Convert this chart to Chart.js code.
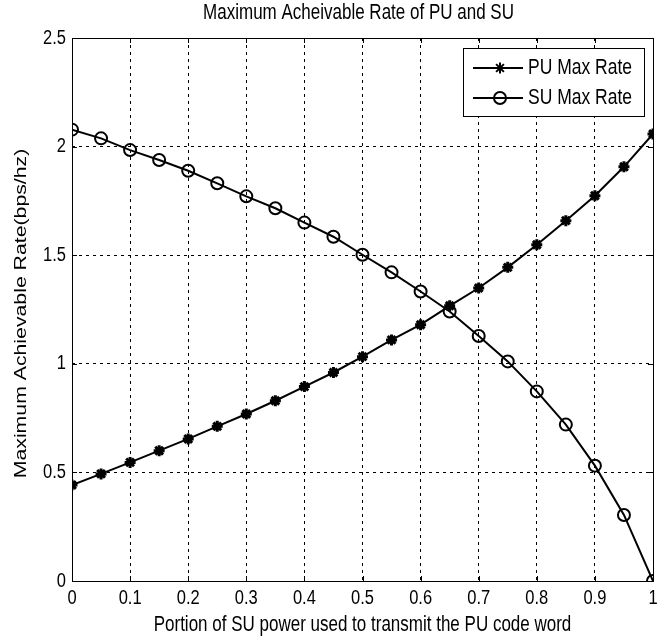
<!DOCTYPE html>
<html>
<head>
<meta charset="utf-8">
<script src="https://cdn.jsdelivr.net/npm/chart.js@4"></script>
<style>
  html, body { margin: 0; padding: 0; background: #fff; }
  #chart { display: block; }
</style>
</head>
<body>
<canvas id="chart" width="664" height="638"></canvas>
<script>
// values
const portion = [0, 0.05, 0.1, 0.15, 0.2, 0.25, 0.3, 0.35, 0.4, 0.45, 0.5,
                 0.55, 0.6, 0.65, 0.7, 0.75, 0.8, 0.85, 0.9, 0.95, 1]
const puRate = [0.442, 0.493, 0.546, 0.600, 0.654, 0.712, 0.769, 0.830, 0.895, 0.960, 1.033,
                1.110, 1.180, 1.267, 1.349, 1.444, 1.548, 1.659, 1.774, 1.907, 2.058]
const suRate = [2.078, 2.038, 1.984, 1.938, 1.889, 1.831, 1.771, 1.716, 1.650, 1.585, 1.502,
                1.421, 1.333, 1.241, 1.128, 1.011, 0.873, 0.720, 0.531, 0.304, 0]
const xTicks = [0, 0.1, 0.2, 0.3, 0.4, 0.5, 0.6, 0.7, 0.8, 0.9, 1]
const yTicks = [0, 0.5, 1, 1.5, 2, 2.5]

const FONT = "'Liberation Sans', Arial, sans-serif"
const STRETCH = 1.25 // the reference picture is stretched vertically, text too
const toPoints = ys => portion.map((x, i) => ({x: x, y: ys[i]}))

// text drawn by hand so it can be stretched like the reference
function stretchedText(ctx, text, x, y, align, size, rotate) {
  ctx.save()
  ctx.translate(x, y)
  if (rotate) {
    ctx.rotate(-Math.PI / 2)
    ctx.scale(STRETCH, 1)
  } else {
    ctx.scale(1, STRETCH)
  }
  ctx.font = size + 'px ' + FONT
  ctx.textAlign = align
  ctx.textBaseline = 'middle'
  ctx.fillStyle = '#000'
  ctx.fillText(text, 0, 0)
  ctx.restore()
}

// frame, inward ticks, labels, title and legend (matlab look)
const matlabFrame = {
  id: 'matlabFrame',
  afterDraw(chart) {
    const {ctx, chartArea: a, scales} = chart
    ctx.save()
    ctx.strokeStyle = '#000'
    ctx.lineWidth = 1
    ctx.setLineDash([])
    ctx.strokeRect(a.left + 0.5, a.top + 0.5, a.right - a.left, a.bottom - a.top)

    ctx.beginPath()
    xTicks.forEach(v => {
      const px = Math.round(scales.x.getPixelForValue(v)) + 0.5
      ctx.moveTo(px, a.bottom); ctx.lineTo(px, a.bottom - 5)
      ctx.moveTo(px, a.top); ctx.lineTo(px, a.top + 5)
    })
    yTicks.forEach(v => {
      const py = Math.round(scales.y.getPixelForValue(v)) + 0.5
      ctx.moveTo(a.left, py); ctx.lineTo(a.left + 5, py)
      ctx.moveTo(a.right, py); ctx.lineTo(a.right - 5, py)
    })
    ctx.stroke()

    // tick labels
    xTicks.forEach(v => {
      stretchedText(ctx, String(v), scales.x.getPixelForValue(v), a.bottom + 17, 'center', 16.5)
    })
    yTicks.forEach(v => {
      stretchedText(ctx, String(v), a.left - 6, scales.y.getPixelForValue(v), 'right', 16.5)
    })

    // titles
    const cx = (a.left + a.right) / 2
    stretchedText(ctx, 'Maximum Acheivable Rate of PU and SU', cx - 4, 13, 'center', 17)
    stretchedText(ctx, 'Portion of SU power used to transmit the PU code word', cx, 625, 'center', 17)
    stretchedText(ctx, 'Maximum Achievable Rate(bps/hz)', 21, (a.top + a.bottom) / 2 + 4, 'center', 17, true)

    // legend box
    const bx = a.right - 190, by = a.top + 10, bw = 181, bh = 68
    ctx.fillStyle = '#fff'
    ctx.fillRect(bx, by, bw, bh)
    ctx.strokeRect(bx + 0.5, by + 0.5, bw, bh)
    chart.data.datasets.forEach((ds, i) => {
      const cy = by + 20 + i * 30
      ctx.lineWidth = 2
      ctx.strokeStyle = '#000'
      ctx.beginPath()
      ctx.moveTo(bx + 10, cy); ctx.lineTo(bx + 60, cy)
      ctx.stroke()
      ctx.fillStyle = ds.pointBackgroundColor
      Chart.helpers.drawPoint(ctx, {
        pointStyle: ds.pointStyle, radius: ds.pointRadius, borderWidth: ds.pointBorderWidth
      }, bx + 37, cy)
      stretchedText(ctx, ds.label, bx + 65, cy, 'left', 17.5)
    })
    ctx.restore()
  }
}

new Chart(document.getElementById('chart'), {
  type: 'line',
  data: {
    datasets: [
      {
        label: 'PU Max Rate',
        data: toPoints(puRate),
        borderColor: '#000',
        borderWidth: 2,
        pointStyle: 'star',
        pointRadius: 5.5,
        pointBorderWidth: 3,
        pointBorderColor: '#000',
        pointBackgroundColor: '#000',
        tension: 0
      },
      {
        label: 'SU Max Rate',
        data: toPoints(suRate),
        borderColor: '#000',
        borderWidth: 2,
        pointStyle: 'circle',
        pointRadius: 6,
        pointBorderWidth: 2,
        pointBorderColor: '#000',
        pointBackgroundColor: 'rgba(255,255,255,0)',
        tension: 0
      }
    ]
  },
  options: {
    responsive: false,
    animation: false,
    layout: {padding: {left: 0, top: 38, right: 11, bottom: 0}},
    plugins: {
      legend: {display: false},
      tooltip: {enabled: false}
    },
    scales: {
      x: {
        type: 'linear',
        min: 0,
        max: 1,
        afterFit: s => { s.height = 57 },
        afterBuildTicks: s => { s.ticks = xTicks.map(v => ({value: v})) },
        ticks: {display: false},
        grid: {color: '#000', lineWidth: 1, drawTicks: false},
        border: {display: false, dash: [3, 4]}
      },
      y: {
        min: 0,
        max: 2.5,
        afterFit: s => { s.width = 72 },
        afterBuildTicks: s => { s.ticks = yTicks.map(v => ({value: v})) },
        ticks: {display: false},
        grid: {color: '#000', lineWidth: 1, drawTicks: false},
        border: {display: false, dash: [3, 4]}
      }
    }
  },
  plugins: [matlabFrame]
})
</script>
</body>
</html>
